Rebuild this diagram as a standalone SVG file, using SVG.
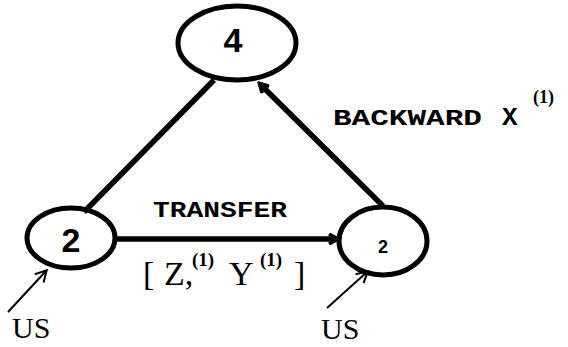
<svg xmlns="http://www.w3.org/2000/svg" width="568" height="347" viewBox="0 0 568 347">
<style>
.node{fill:none;stroke:#000;stroke-width:5}
.edge{fill:none;stroke:#000;stroke-width:5.5}
.thin{fill:none;stroke:#000;stroke-width:2}
.num{font-family:"Liberation Sans",Arial,sans-serif;font-weight:bold;text-anchor:middle;fill:#000}
.mono{font-family:"Liberation Mono","Courier New",monospace;font-weight:bold;fill:#000}
.serif{font-family:"Liberation Serif","Times New Roman",serif;fill:#000}
.sup{font-family:"Liberation Serif","Times New Roman",serif;font-weight:bold;fill:#000}
</style>
<defs>
<marker id="ah" markerWidth="12" markerHeight="12" refX="9" refY="6" orient="auto" markerUnits="userSpaceOnUse">
<path d="M1,1 L10,6 L1,11" fill="none" stroke="#000" stroke-width="3.5"/>
</marker>
<marker id="ahs" markerWidth="14" markerHeight="14" refX="11" refY="7" orient="auto" markerUnits="userSpaceOnUse">
<path d="M1,1 L12,7 L1,13" fill="none" stroke="#000" stroke-width="2"/>
</marker>
</defs>
<g id="connectors">
<line class="edge" x1="84" y1="212" x2="214" y2="80"/>
<line class="edge" x1="383" y1="206" x2="260" y2="84" marker-end="url(#ah)"/>
<line class="edge" x1="115" y1="239" x2="337" y2="239" marker-end="url(#ah)"/>
<line class="thin" x1="8" y1="312" x2="46" y2="271" marker-end="url(#ahs)"/>
<line class="thin" x1="327" y1="308" x2="367" y2="272" marker-end="url(#ahs)"/>
</g>
<g id="node4">
<ellipse class="node" cx="237" cy="43" rx="59" ry="37"/>
<text class="num" x="233" y="52" font-size="34">4</text>
</g>
<g id="nodeLeft">
<ellipse class="node" cx="71" cy="238" rx="44" ry="30"/>
<text class="num" x="71" y="252" font-size="34">2</text>
</g>
<g id="nodeRight">
<ellipse class="node" cx="383" cy="241" rx="44" ry="34"/>
<text class="num" x="383" y="253" font-size="18">2</text>
</g>
<g id="labels">
<text class="mono" x="153" y="217" font-size="22" textLength="134" lengthAdjust="spacingAndGlyphs">TRANSFER</text>
<text class="serif" x="143" y="285" font-size="34">[</text>
<text class="serif" x="164" y="285" font-size="34">Z,</text>
<text class="sup" x="192" y="266" font-size="19">(1)</text>
<text class="serif" x="229" y="285" font-size="34">Y</text>
<text class="sup" x="260" y="266" font-size="19">(1)</text>
<text class="serif" x="294" y="285" font-size="34">]</text>
<text class="mono" x="333" y="125" font-size="22" textLength="149" lengthAdjust="spacingAndGlyphs">BACKWARD</text>
<text class="mono" x="502" y="125" font-size="26">X</text>
<text class="sup" x="533" y="103" font-size="18">(1)</text>
<text class="serif" x="12" y="338" font-size="30">US</text>
<text class="serif" x="321" y="339" font-size="30">US</text>
</g>
</svg>
